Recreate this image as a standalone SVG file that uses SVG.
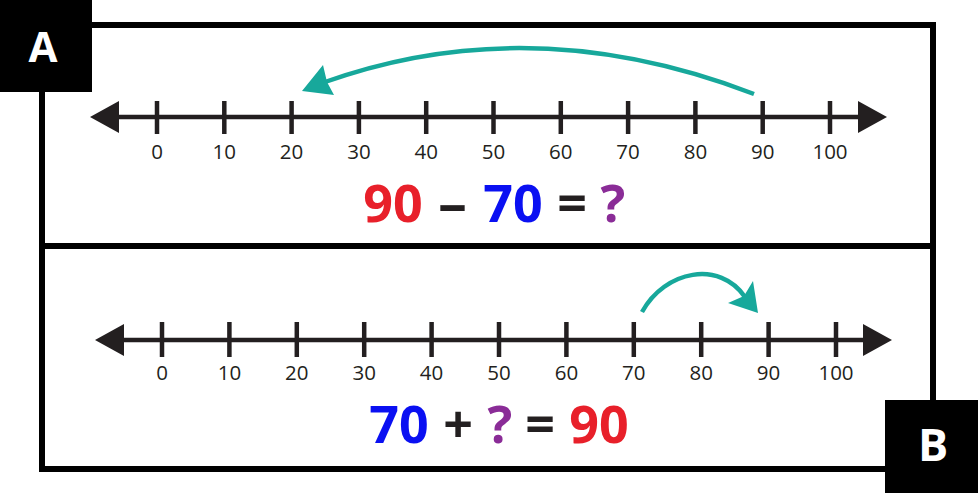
<svg xmlns="http://www.w3.org/2000/svg" width="978" height="493" viewBox="0 0 978 493">
<style>
.frame{stroke:#000;stroke-width:6;fill:none}
.axis{stroke:#231f20;stroke-width:4.5;fill:none}
.tick{stroke:#231f20;stroke-width:4.5}
.ahead{fill:#231f20}
.lbl{font-family:"Open Sans","Liberation Sans",sans-serif;font-size:20.5px;fill:#231f20;text-anchor:middle}
.eq{font-family:"Open Sans","Liberation Sans",sans-serif;font-size:52px;font-weight:bold;text-anchor:middle}
.tag{font-family:"Open Sans","Liberation Sans",sans-serif;font-weight:bold;fill:#fff;text-anchor:middle}
.jump{stroke:#17a89b;stroke-width:4.5;fill:none}
.jhead{fill:#17a89b}
.red{fill:#e8202a}.blue{fill:#0a10f2}.purple{fill:#8a2c97}.dark{fill:#231f20}
</style>
<g id="frame">
<line class="frame" x1="90" y1="25" x2="936" y2="25"/>
<line class="frame" x1="42" y1="90" x2="42" y2="472"/>
<line class="frame" x1="933" y1="22" x2="933" y2="402"/>
<line class="frame" x1="39" y1="469" x2="887" y2="469"/>
<line class="frame" x1="39" y1="246" x2="936" y2="246"/>
</g>
<g id="labelA">
<rect x="0" y="0" width="92" height="92" fill="#000"/>
<text class="tag" x="43" y="62" font-size="42">A</text>
</g>
<g id="labelB">
<rect x="885" y="400" width="93" height="93" fill="#000"/>
<text class="tag" x="933" y="461" font-size="45">B</text>
</g>
<g id="numberlineA">
<line class="axis" x1="115" y1="117" x2="862" y2="117"/>
<polygon class="ahead" points="90,117 119,101 119,133"/>
<polygon class="ahead" points="887,117 858,101 858,133"/>
<g class="tick">
<line x1="157" y1="101" x2="157" y2="134"/>
<line x1="224.3" y1="101" x2="224.3" y2="134"/>
<line x1="291.6" y1="101" x2="291.6" y2="134"/>
<line x1="358.9" y1="101" x2="358.9" y2="134"/>
<line x1="426.2" y1="101" x2="426.2" y2="134"/>
<line x1="493.5" y1="101" x2="493.5" y2="134"/>
<line x1="560.8" y1="101" x2="560.8" y2="134"/>
<line x1="628.1" y1="101" x2="628.1" y2="134"/>
<line x1="695.4" y1="101" x2="695.4" y2="134"/>
<line x1="762.7" y1="101" x2="762.7" y2="134"/>
<line x1="830" y1="101" x2="830" y2="134"/>
</g>
<text class="lbl" x="157" y="158.5">0</text>
<text class="lbl" x="224.3" y="158.5">10</text>
<text class="lbl" x="291.6" y="158.5">20</text>
<text class="lbl" x="358.9" y="158.5">30</text>
<text class="lbl" x="426.2" y="158.5">40</text>
<text class="lbl" x="493.5" y="158.5">50</text>
<text class="lbl" x="560.8" y="158.5">60</text>
<text class="lbl" x="628.1" y="158.5">70</text>
<text class="lbl" x="695.4" y="158.5">80</text>
<text class="lbl" x="762.7" y="158.5">90</text>
<text class="lbl" x="830" y="158.5">100</text>
</g>
<g id="equationA">
<text class="eq red" x="393" y="222">90</text>
<text class="eq dark" x="438" y="222" style="text-anchor:start" textLength="29" lengthAdjust="spacingAndGlyphs">–</text>
<text class="eq blue" x="513" y="222">70</text>
<text class="eq dark" x="572" y="222">=</text>
<text class="eq purple" x="613" y="222">?</text>
</g>
<g id="numberlineB">
<line class="axis" x1="120" y1="340" x2="867" y2="340"/>
<polygon class="ahead" points="95,340 124,324 124,356"/>
<polygon class="ahead" points="892,340 863,324 863,356"/>
<g class="tick">
<line x1="162" y1="322" x2="162" y2="357"/>
<line x1="229.4" y1="322" x2="229.4" y2="357"/>
<line x1="296.8" y1="322" x2="296.8" y2="357"/>
<line x1="364.2" y1="322" x2="364.2" y2="357"/>
<line x1="431.6" y1="322" x2="431.6" y2="357"/>
<line x1="499" y1="322" x2="499" y2="357"/>
<line x1="566.4" y1="322" x2="566.4" y2="357"/>
<line x1="633.8" y1="322" x2="633.8" y2="357"/>
<line x1="701.2" y1="322" x2="701.2" y2="357"/>
<line x1="768.6" y1="322" x2="768.6" y2="357"/>
<line x1="836" y1="322" x2="836" y2="357"/>
</g>
<text class="lbl" x="162" y="379.5">0</text>
<text class="lbl" x="229.4" y="379.5">10</text>
<text class="lbl" x="296.8" y="379.5">20</text>
<text class="lbl" x="364.2" y="379.5">30</text>
<text class="lbl" x="431.6" y="379.5">40</text>
<text class="lbl" x="499" y="379.5">50</text>
<text class="lbl" x="566.4" y="379.5">60</text>
<text class="lbl" x="633.8" y="379.5">70</text>
<text class="lbl" x="701.2" y="379.5">80</text>
<text class="lbl" x="768.6" y="379.5">90</text>
<text class="lbl" x="836" y="379.5">100</text>
</g>
<g id="equationB">
<text class="eq blue" x="399" y="443">70</text>
<text class="eq dark" x="458" y="443">+</text>
<text class="eq purple" x="500" y="443">?</text>
<text class="eq dark" x="540" y="443">=</text>
<text class="eq red" x="599" y="443">90</text>
</g>
<g id="connectors">
<path class="jump" d="M754,94 Q530,8 322,83"/>
<polygon class="jhead" points="302,91 323,65 327,82 334,95"/>
<path class="jump" d="M642,312 C665,270 720,260 745,297"/>
<polygon class="jhead" points="758,313 753,281 744,296 728,303"/>
</g>
</svg>
